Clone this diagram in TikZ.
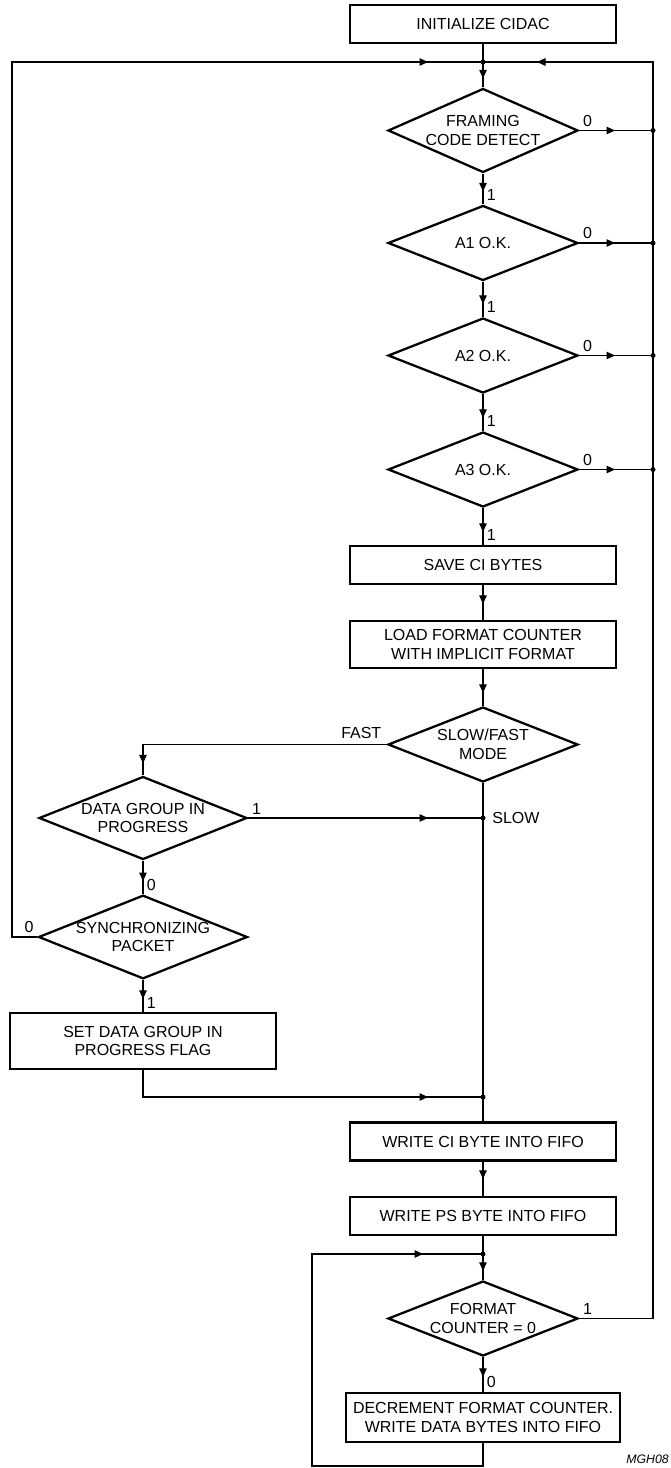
\documentclass[tikz,border=0pt]{standalone}
\usepackage{fontspec}
\setmainfont{Liberation Sans}
\usetikzlibrary{shapes.geometric,arrows.meta,decorations.markings}

\begin{document}
\begin{tikzpicture}[x=0.2mm, y=-0.2mm,
    font=\fontsize{9.1}{10.6}\selectfont,
    caja/.style={draw, line width=1.3pt, minimum width=53.2mm, minimum height=7.6mm, align=center, inner sep=1pt},
    rombo/.style={diamond, draw, line width=1.3pt, aspect=2.5, inner sep=0pt, minimum width=38mm, minimum height=15mm, align=center},
    linea/.style={line width=0.6pt},
    flecha/.style={linea, postaction={decorate, decoration={markings,
        mark=at position #1 with {\arrow{Triangle[length=1.7mm, width=1.5mm]}}}}},
    flecha/.default=-2.6mm,
    etq/.style={inner sep=2pt},
    punto/.style={circle, fill, inner sep=0pt, minimum size=1mm}]
    \useasboundingbox (0,0) rectangle (671,1468);
    % Bloques principales
    \node[caja] (init) at (483,24) {INITIALIZE CIDAC};
    \node[rombo, minimum height=16.8mm] (fcd) at (483,130.5) {FRAMING\\CODE DETECT};
    \node[rombo] (a1) at (483,243) {A1 O.K.};
    \node[rombo] (a2) at (483,355.5) {A2 O.K.};
    \node[rombo] (a3) at (483,469.5) {A3 O.K.};
    \node[caja] (save) at (483,565) {SAVE CI BYTES};
    \node[caja, minimum height=9.4mm] (load) at (483,644.5) {LOAD FORMAT COUNTER\\WITH IMPLICIT FORMAT};
    \node[rombo] (modo) at (483,744.5) {SLOW/FAST\\MODE};
    \node[caja] (wci) at (483,1141.5) {WRITE CI BYTE INTO FIFO};
    \node[caja] (wps) at (483,1216) {WRITE PS BYTE INTO FIFO};
    \node[rombo] (cuenta) at (483,1318.5) {FORMAT\\COUNTER = 0};
    \node[caja, minimum width=54.8mm, minimum height=9.8mm] (dec) at (483,1417.5) {DECREMENT FORMAT COUNTER.\\WRITE DATA BYTES INTO FIFO};
    % Rama rápida
    \node[rombo, minimum width=41.6mm, minimum height=16.6mm] (grupo) at (143,818) {DATA GROUP IN\\PROGRESS};
    \node[rombo, minimum width=41.6mm, minimum height=16.4mm] (sinc) at (143,937) {SYNCHRONIZING\\PACKET};
    \node[caja, minimum height=11.2mm] (flag) at (143,1041) {SET DATA GROUP IN\\PROGRESS FLAG};
    % Puntos de unión
    \coordinate (cruce) at (483,62);
    \coordinate (bus) at (653,62);
    \coordinate (izq) at (12,62);
    \coordinate (slow) at (483,818);
    \coordinate (union) at (483,1097);
    \coordinate (bucle) at (483,1254);
    \coordinate (bajo) at (312,1466);
    % Columna central
    \draw[linea] (init) -- (cruce);
    \draw[flecha=-1.8mm] (cruce) -- (fcd);
    \draw[flecha] (fcd) -- (a1);
    \draw[flecha] (a1) -- (a2);
    \draw[flecha] (a2) -- (a3);
    \draw[flecha] (a3) -- (save);
    \draw[flecha=-3.2mm] (save) -- (load);
    \draw[flecha] (load) -- (modo);
    \draw[linea] (modo) -- (slow) -- (union) -- (wci);
    \draw[flecha=-3.4mm] (wci) -- (wps);
    \draw[linea] (wps) -- (bucle);
    \draw[flecha=-1.8mm] (bucle) -- (cuenta);
    \draw[flecha=-3mm] (cuenta) -- (dec);
    % Salidas 0 hacia el bus derecho
    \foreach \r in {fcd,a1,a2,a3} {
        \draw[flecha=-7.6mm] (\r.east) -- (\r.east -| bus);
        \node[punto] (p\r) at (\r.east -| bus) {};
        \node[etq, anchor=south west] (c\r) at (\r.east) {0};
    }
    \draw[flecha=-10.8mm] (cuenta.east) -- (cuenta.east -| bus) -- (bus) -- (cruce);
    \draw[flecha=-11mm] (sinc.west) -- (sinc.west -| izq) -- (izq) -- (cruce);
    \draw[flecha=-2.4mm] (modo.west) -| (grupo.north);
    \draw[flecha=-11mm] (grupo.east) -- (slow);
    \draw[flecha] (grupo) -- (sinc);
    \draw[flecha] (sinc) -- (flag);
    \draw[flecha=-11mm] (flag.south) |- (union);
    \draw[flecha=-12mm] (dec.south) |- (bajo) |- (bucle);
    \node[punto] (pcruce) at (cruce) {};
    \node[punto] (pslow) at (slow) {};
    \node[punto] (punion) at (union) {};
    \node[punto] (pbucle) at (bucle) {};
    % Etiquetas
    \node[etq, anchor=south west] (u1) at (a1.north) {1};
    \node[etq, anchor=south west] (u2) at (a2.north) {1};
    \node[etq, anchor=south west] (u3) at (a3.north) {1};
    \node[etq, anchor=south west] (u4) at (save.north) {1};
    \node[etq, anchor=south east, inner sep=3pt] (fast) at (modo.west) {FAST};
    \node[anchor=west, inner sep=0pt] (lslow) at ([xshift=1.8mm]slow) {SLOW};
    \node[etq, anchor=south west] (ugrupo) at (grupo.east) {1};
    \node[etq, anchor=south west] (zgrupo) at (sinc.north) {0};
    \node[etq, anchor=south east] (zsinc) at (sinc.west) {0};
    \node[etq, anchor=south west] (usinc) at (flag.north) {1};
    \node[etq, anchor=south west] (ucuenta) at (cuenta.east) {1};
    \node[etq, anchor=south west] (zcuenta) at (dec.north) {0};
    \node[anchor=north west, inner sep=0pt, font=\fontsize{7}{8}\selectfont\itshape] (ref) at (626,1455) {MGH08};
\end{tikzpicture}
\end{document}
